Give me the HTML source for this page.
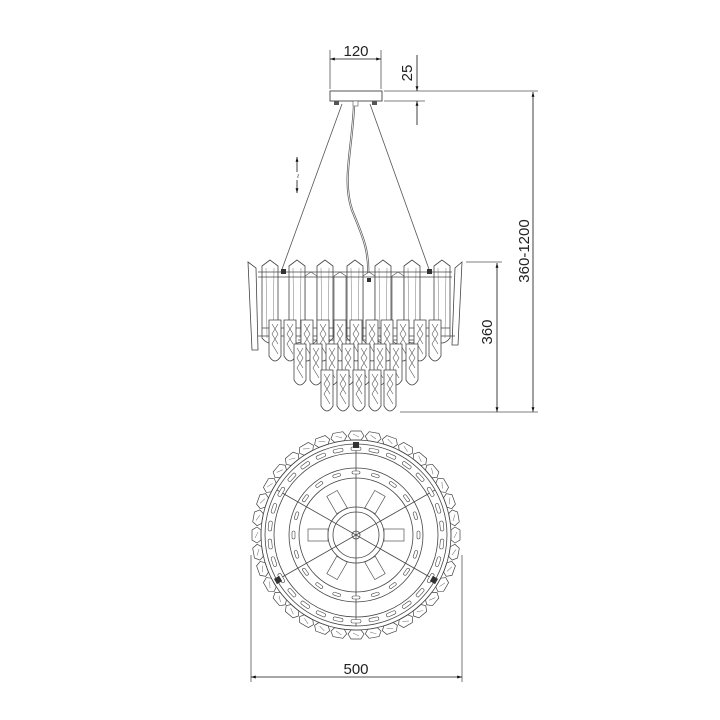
<!DOCTYPE html>
<html><head><meta charset="utf-8"><style>
html,body{margin:0;padding:0;background:#fff;}
svg{display:block;}
text{font-family:"Liberation Sans",sans-serif;fill:#222;}
</style></head><body>
<svg width="720" height="720" viewBox="0 0 720 720" xmlns="http://www.w3.org/2000/svg">
<defs>
<marker id="ar" viewBox="0 0 10 10" refX="10" refY="5" markerWidth="9" markerHeight="6" orient="auto-start-reverse"><path d="M0,2 L10,5 L0,8 Z" fill="#111"/></marker>
<g id="tall"><path d="M0,0 L-8,6 L-8,78 Q0,88 8,78 L8,6 Z" fill="#fff" stroke="#444" stroke-width="0.8"/><path d="M-4,8 L-3,78 M4,8 L3,78" stroke="#777" stroke-width="0.5" fill="none"/></g>
<g id="short"><path d="M0,12 L-6,16 L-6,80 Q0,88 6,80 L6,16 Z" fill="#fff" stroke="#555" stroke-width="0.7"/></g>
<g id="pend"><path d="M-6,0 L6,0 L6,36 Q0,46 -6,36 Z" fill="#fff" stroke="#444" stroke-width="0.8"/><path d="M-3,4 L3,14 L-3,24 L3,34 M3,4 L-3,14 L3,24" stroke="#555" stroke-width="0.6" fill="none"/></g>
<g id="hex"><path d="M-5,-104 L5,-104 L8,-99 L5,-95 L-5,-95 L-8,-99 Z" fill="#fff" stroke="#444" stroke-width="0.7"/><path d="M-3,-101 L3,-98" stroke="#666" stroke-width="0.5"/></g>
<g id="dash"><rect x="-5" y="-88" width="10" height="3.5" rx="1.7" fill="#fff" stroke="#444" stroke-width="0.6"/></g>
<g id="dash2"><rect x="-4" y="-64" width="8" height="3" rx="1.5" fill="#fff" stroke="#444" stroke-width="0.6"/></g>
</defs>

<g stroke="#555" stroke-width="0.8" fill="none">
<line x1="330" y1="50" x2="330" y2="89"/><line x1="381" y1="50" x2="381" y2="89"/>
<line x1="330" y1="59" x2="381" y2="59" marker-start="url(#ar)" marker-end="url(#ar)" stroke="#111"/>
<line x1="384" y1="91" x2="440" y2="91"/><line x1="384" y1="101" x2="425" y2="101"/>
<line x1="417" y1="55" x2="417" y2="91" marker-end="url(#ar)" stroke="#111"/>
<line x1="417" y1="125" x2="417" y2="101" marker-end="url(#ar)" stroke="#111"/>
<line x1="440" y1="91" x2="538" y2="91"/>
<line x1="533" y1="92" x2="533" y2="412" marker-start="url(#ar)" marker-end="url(#ar)" stroke="#111"/>
<line x1="400" y1="412" x2="538" y2="412"/>
<line x1="466" y1="262" x2="502" y2="262"/>
<line x1="497" y1="263" x2="497" y2="412" marker-start="url(#ar)" marker-end="url(#ar)" stroke="#111"/>
<line x1="251" y1="555" x2="251" y2="682"/><line x1="462" y1="555" x2="462" y2="682"/>
<line x1="251" y1="677" x2="462" y2="677" marker-start="url(#ar)" marker-end="url(#ar)" stroke="#111"/>
<line x1="297" y1="172" x2="297" y2="157" marker-end="url(#ar)" stroke="#111"/>
<line x1="297" y1="180" x2="297" y2="193" marker-end="url(#ar)" stroke="#111"/>
</g>
<text x="356" y="56" font-size="15" text-anchor="middle">120</text>
<text transform="translate(412,73) rotate(-90)" font-size="15" text-anchor="middle">25</text>
<text transform="translate(529,251) rotate(-90)" font-size="15" text-anchor="middle">360-1200</text>
<text transform="translate(492,332) rotate(-90)" font-size="15" text-anchor="middle">360</text>
<text x="356" y="674" font-size="15" text-anchor="middle">500</text>
<text transform="translate(301,176) rotate(-90)" font-size="8" text-anchor="middle">~</text>

<rect x="330" y="91" width="52" height="10" fill="#fff" stroke="#444" stroke-width="0.9"/>
<rect x="334" y="101" width="5" height="4" fill="#555"/><rect x="372" y="101" width="5" height="4" fill="#555"/>
<rect x="353" y="101" width="5" height="5" fill="#fff" stroke="#555" stroke-width="0.6"/>
<g stroke="#555" stroke-width="0.8" fill="none">
<line x1="342" y1="104" x2="281" y2="272"/>
<line x1="370" y1="104" x2="430" y2="272"/>
<path d="M354,106 C352,150 342,180 352,210 C362,235 370,250 368,280" stroke-width="2.2"/>
<path d="M354,106 C352,150 342,180 352,210 C362,235 370,250 368,280" stroke="#fff" stroke-width="0.8"/>
</g>

<g>
<path d="M248,262 L256,268 L258,350 L252,350 Z" fill="#fff" stroke="#444" stroke-width="0.8"/>
<path d="M462,262 L455,268 L452,345 L458,345 Z" fill="#fff" stroke="#444" stroke-width="0.8"/>
<use href="#short" x="311" y="260"/><use href="#short" x="340" y="260"/><use href="#short" x="369" y="260"/><use href="#short" x="398" y="260"/>
<use href="#tall" x="270" y="260"/><use href="#tall" x="297" y="260"/><use href="#tall" x="325" y="260"/><use href="#tall" x="355" y="260"/><use href="#tall" x="383" y="260"/><use href="#tall" x="412" y="260"/><use href="#tall" x="442" y="260"/>
<g stroke="#444" stroke-width="0.8" fill="none">
<line x1="258" y1="272" x2="452" y2="272"/><line x1="258" y1="277" x2="452" y2="277"/>
<line x1="262" y1="328" x2="450" y2="328"/><line x1="258" y1="336" x2="455" y2="336"/>
<line x1="298" y1="340" x2="415" y2="340"/>
</g>
<rect x="281" y="269" width="5" height="5" fill="#333"/><rect x="427" y="269" width="5" height="5" fill="#333"/><rect x="367" y="278" width="4" height="4" fill="#333"/>
<use href="#pend" x="275" y="320"/><use href="#pend" x="290" y="320"/><use href="#pend" x="307" y="320"/><use href="#pend" x="323" y="320"/><use href="#pend" x="340" y="320"/><use href="#pend" x="356" y="320"/><use href="#pend" x="372" y="320"/><use href="#pend" x="387" y="320"/><use href="#pend" x="403" y="320"/><use href="#pend" x="420" y="320"/><use href="#pend" x="435" y="320"/>
<use href="#pend" x="300" y="344"/><use href="#pend" x="316" y="344"/><use href="#pend" x="332" y="344"/><use href="#pend" x="348" y="344"/><use href="#pend" x="364" y="344"/><use href="#pend" x="380" y="344"/><use href="#pend" x="396" y="344"/><use href="#pend" x="412" y="344"/>
<use href="#pend" x="327" y="370"/><use href="#pend" x="343" y="370"/><use href="#pend" x="359" y="370"/><use href="#pend" x="375" y="370"/><use href="#pend" x="390" y="370"/>
</g>

<g transform="translate(356,535)">
<g>
<use href="#hex" transform="rotate(0)"/><use href="#hex" transform="rotate(10)"/><use href="#hex" transform="rotate(20)"/><use href="#hex" transform="rotate(30)"/><use href="#hex" transform="rotate(40)"/><use href="#hex" transform="rotate(50)"/><use href="#hex" transform="rotate(60)"/><use href="#hex" transform="rotate(70)"/><use href="#hex" transform="rotate(80)"/><use href="#hex" transform="rotate(90)"/><use href="#hex" transform="rotate(100)"/><use href="#hex" transform="rotate(110)"/><use href="#hex" transform="rotate(120)"/><use href="#hex" transform="rotate(130)"/><use href="#hex" transform="rotate(140)"/><use href="#hex" transform="rotate(150)"/><use href="#hex" transform="rotate(160)"/><use href="#hex" transform="rotate(170)"/><use href="#hex" transform="rotate(180)"/><use href="#hex" transform="rotate(190)"/><use href="#hex" transform="rotate(200)"/><use href="#hex" transform="rotate(210)"/><use href="#hex" transform="rotate(220)"/><use href="#hex" transform="rotate(230)"/><use href="#hex" transform="rotate(240)"/><use href="#hex" transform="rotate(250)"/><use href="#hex" transform="rotate(260)"/><use href="#hex" transform="rotate(270)"/><use href="#hex" transform="rotate(280)"/><use href="#hex" transform="rotate(290)"/><use href="#hex" transform="rotate(300)"/><use href="#hex" transform="rotate(310)"/><use href="#hex" transform="rotate(320)"/><use href="#hex" transform="rotate(330)"/><use href="#hex" transform="rotate(340)"/><use href="#hex" transform="rotate(350)"/>
</g>
<g fill="none" stroke="#444" stroke-width="0.8">
<circle r="95"/><circle r="91"/><circle r="82"/>
<circle r="67"/><circle r="57"/><circle r="28"/><circle r="23"/><circle r="4"/>
<line x1="0" y1="-91" x2="0" y2="91"/>
<line x1="-79" y1="-45" x2="79" y2="45"/>
<line x1="-79" y1="45" x2="79" y2="-45"/>
<g stroke="#555" stroke-width="0.7">
<rect x="-48" y="-6" width="20" height="12"/><rect x="28" y="-6" width="20" height="12"/>
<rect x="-48" y="-6" width="20" height="12" transform="rotate(60)"/><rect x="28" y="-6" width="20" height="12" transform="rotate(60)"/>
<rect x="-48" y="-6" width="20" height="12" transform="rotate(120)"/><rect x="28" y="-6" width="20" height="12" transform="rotate(120)"/>
</g>
</g>
<g>
<use href="#dash" transform="rotate(0)"/><use href="#dash" transform="rotate(12)"/><use href="#dash" transform="rotate(24)"/><use href="#dash" transform="rotate(36)"/><use href="#dash" transform="rotate(48)"/><use href="#dash" transform="rotate(60)"/><use href="#dash" transform="rotate(72)"/><use href="#dash" transform="rotate(84)"/><use href="#dash" transform="rotate(96)"/><use href="#dash" transform="rotate(108)"/><use href="#dash" transform="rotate(120)"/><use href="#dash" transform="rotate(132)"/><use href="#dash" transform="rotate(144)"/><use href="#dash" transform="rotate(156)"/><use href="#dash" transform="rotate(168)"/><use href="#dash" transform="rotate(180)"/><use href="#dash" transform="rotate(192)"/><use href="#dash" transform="rotate(204)"/><use href="#dash" transform="rotate(216)"/><use href="#dash" transform="rotate(228)"/><use href="#dash" transform="rotate(240)"/><use href="#dash" transform="rotate(252)"/><use href="#dash" transform="rotate(264)"/><use href="#dash" transform="rotate(276)"/><use href="#dash" transform="rotate(288)"/><use href="#dash" transform="rotate(300)"/><use href="#dash" transform="rotate(312)"/><use href="#dash" transform="rotate(324)"/><use href="#dash" transform="rotate(336)"/><use href="#dash" transform="rotate(348)"/>
<use href="#dash2" transform="rotate(0)"/><use href="#dash2" transform="rotate(18)"/><use href="#dash2" transform="rotate(36)"/><use href="#dash2" transform="rotate(54)"/><use href="#dash2" transform="rotate(72)"/><use href="#dash2" transform="rotate(90)"/><use href="#dash2" transform="rotate(108)"/><use href="#dash2" transform="rotate(126)"/><use href="#dash2" transform="rotate(144)"/><use href="#dash2" transform="rotate(162)"/><use href="#dash2" transform="rotate(180)"/><use href="#dash2" transform="rotate(198)"/><use href="#dash2" transform="rotate(216)"/><use href="#dash2" transform="rotate(234)"/><use href="#dash2" transform="rotate(252)"/><use href="#dash2" transform="rotate(270)"/><use href="#dash2" transform="rotate(288)"/><use href="#dash2" transform="rotate(306)"/><use href="#dash2" transform="rotate(324)"/><use href="#dash2" transform="rotate(342)"/>
</g>
<rect x="-3" y="-93" width="6" height="6" fill="#333"/>
<rect x="-3" y="-93" width="6" height="6" fill="#333" transform="rotate(120)"/>
<rect x="-3" y="-93" width="6" height="6" fill="#333" transform="rotate(240)"/>
</g>
</svg>
</body></html>
